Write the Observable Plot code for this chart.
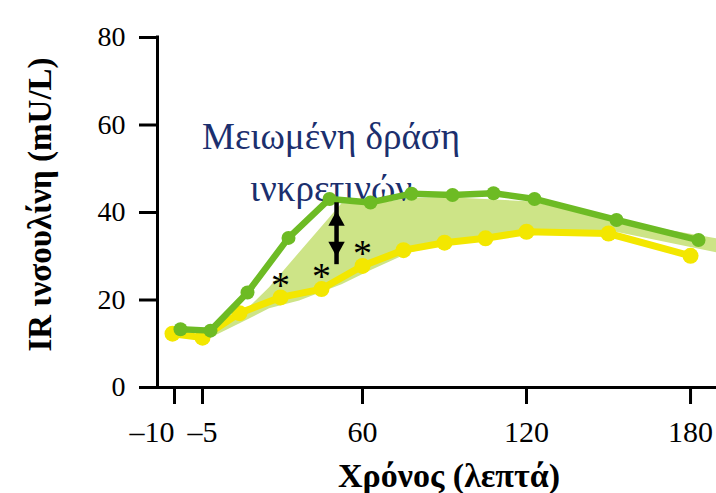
<!DOCTYPE html>
<html>
<head>
<meta charset="utf-8">
<script src="https://cdn.jsdelivr.net/npm/d3@7"></script>
<script src="https://cdn.jsdelivr.net/npm/@observablehq/plot@0.6"></script>
<style>
  body { margin: 0; background: #fff; }
</style>
</head>
<body>
<div id="chart"></div>
<script>
// Sampling times (minutes) and insulin levels (mU/L)
const times = [-10, -5, 15, 30, 45, 60, 75, 90, 105, 120, 150, 180];
const oralInsulin = [13.3, 13.0, 21.7, 34.2, 43.1, 42.3, 44.3, 44.0, 44.4, 43.1, 38.3, 33.7];
const ivInsulin   = [12.3, 11.4, 17.0, 20.6, 22.5, 27.8, 31.4, 33.1, 34.1, 35.6, 35.2, 30.1];

// Shaded gap between the two responses
const bandTime  = [-2, 15, 26, 37, 52.5, 63, 77.5, 92, 122.5, 152, 189.5];
const bandUpper = [12.0, 16.1, 22.8, 30.8, 42.0, 41.8, 43.2, 43.4, 42.4, 38.1, 34.0];
const bandLower = [11.0, 14.5, 18.0, 19.8, 23.5, 26.7, 30.8, 32.8, 35.1, 35.6, 30.8];

// Significant time points (marked with *)
const sigTimes = [30, 45, 60];

// Double arrow showing the difference
const arrowTime = [50.5];
const arrowTop = [40.4];
const arrowBottom = [29.9];

// Axis ticks
const xTickValues = [-10, -5, 60, 120, 180];
const xTickLabels = ["–10", "–5", "60", "120", "180"];
const yTickValues = [0, 20, 40, 60, 80];

const noteText = "Μειωμένη δράση\nινκρετινών";

const series = times.map((t, i) => ({t, oral: oralInsulin[i], iv: ivInsulin[i]}));
const band = bandTime.map((t, i) => ({t, lo: bandLower[i], hi: bandUpper[i]}));
const stars = series.filter(d => sigTimes.includes(d.t));
const arrow = arrowTime.map((t, i) => ({t, top: arrowTop[i], bottom: arrowBottom[i]}));

const serif = "'Liberation Serif', 'Times New Roman', 'DejaVu Serif', serif";
const green = "#6dbb24";
const yellow = "#f3e700";
const fillGreen = "#cde487";
const navy = "#1b2f6e";

// Arrowheads: triangles with the tip at the origin
const headUp = {draw(ctx, size) {
  const h = Math.sqrt(size) * 1.45, w = h * 0.55;
  ctx.moveTo(0, 0); ctx.lineTo(w, h); ctx.lineTo(-w, h); ctx.closePath();
}};
const headDown = {draw(ctx, size) {
  const h = Math.sqrt(size) * 1.45, w = h * 0.55;
  ctx.moveTo(0, 0); ctx.lineTo(w, -h); ctx.lineTo(-w, -h); ctx.closePath();
}};

const tickLabel = d => xTickLabels[xTickValues.indexOf(d)];

const chart = Plot.plot({
  width: 716,
  height: 493,
  marginLeft: 157,
  marginRight: 0,
  marginTop: 37,
  marginBottom: 106,
  style: {fontFamily: serif, fontSize: "28px", color: "#000", background: "#fff"},
  x: {type: "linear", domain: [-12.5, -5, 15, 189.5], range: [157, 202, 239, 716]},
  y: {domain: [0, 80]},
  marks: [
    Plot.areaY(band, {x: "t", y1: "lo", y2: "hi", fill: fillGreen, curve: "linear"}),
    Plot.text([noteText], {
      x: () => 48.5, y: () => 62.8, text: d => d,
      lineAnchor: "top", lineHeight: 1.39, fontSize: 37, fill: navy, textAnchor: "middle"
    }),
    Plot.line(series, {x: "t", y: "iv", stroke: yellow, strokeWidth: 7}),
    Plot.dot(series, {x: "t", y: "iv", r: 8, fill: yellow}),
    Plot.line(series, {x: "t", y: "oral", stroke: green, strokeWidth: 6.5, dx: 8}),
    Plot.dot(series, {x: "t", y: "oral", r: 7, fill: green, dx: 8}),
    Plot.text(stars, {x: "t", y: "iv", text: () => "*", dy: -12, fontSize: 38, fill: "#000", lineAnchor: "middle"}),
    Plot.ruleX(arrow, {x: "t", y1: "bottom", y2: "top", insetTop: 8, insetBottom: 8, stroke: "#000", strokeWidth: 4.5}),
    Plot.dot(arrow, {x: "t", y: "top", symbol: headUp, r: 5.8, fill: "#000", stroke: null}),
    Plot.dot(arrow, {x: "t", y: "bottom", symbol: headDown, r: 5.8, fill: "#000", stroke: null}),
    // axes
    Plot.ruleY([0], {stroke: "#000", strokeWidth: 3, strokeLinecap: "square"}),
    Plot.ruleX([-12.5], {stroke: "#000", strokeWidth: 3, strokeLinecap: "square"}),
    Plot.axisY({ticks: yTickValues, tickSize: 18, tickPadding: 14, strokeWidth: 3, fontSize: 28, label: null}),
    Plot.axisX({ticks: xTickValues.filter(d => d !== -10), tickFormat: tickLabel, tickSize: 17, tickPadding: 16, strokeWidth: 3, fontSize: 30, label: null}),
    Plot.axisX({ticks: [-10], tickFormat: tickLabel, tickSize: 17, tickPadding: 16, strokeWidth: 3, fontSize: 30, textAnchor: "end", dx: 2, label: null}),
    Plot.text(["Χρόνος (λεπτά)"], {
      frameAnchor: "bottom", lineAnchor: "bottom", dy: 99, dx: 12,
      fontSize: 34, fontWeight: "bold", fill: "#000"
    }),
    Plot.text(["IR ινσουλίνη (mU/L)"], {
      frameAnchor: "left", textAnchor: "middle", lineAnchor: "bottom", rotate: -90, dx: -107, dy: -8,
      fontSize: 33, fontWeight: "bold", fill: "#000"
    })
  ]
});

document.getElementById("chart").appendChild(chart);
</script>
</body>
</html>
